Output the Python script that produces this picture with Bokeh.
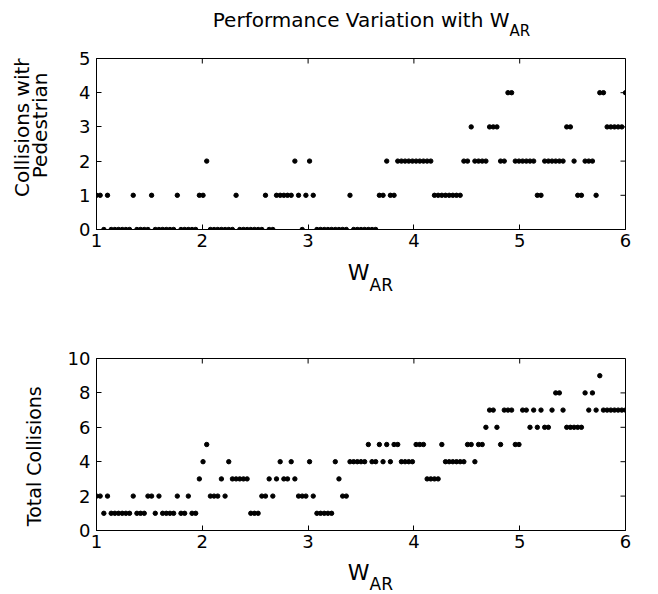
import numpy as np
from bokeh.plotting import figure
from bokeh.models import Range1d, FixedTicker
from bokeh.core.properties import value
from bokeh.layouts import column, row
from bokeh.embed import file_html
from bokeh.resources import INLINE

# ---------------- data ----------------
N_POINTS = 145
w_ar = np.linspace(1.0, 6.0, N_POINTS)

ped_collisions = [1, 1, 0, 1, 0, 0, 0, 0, 0, 0, 1, 0, 0, 0, 0, 1, 0, 0, 0, 0, 0, 0, 1,
                  0, 0, 0, 0, 0, 1, 1, 2, 0, 0, 0, 0, 0, 0, 0, 1, 0, 0, 0, 0, 0, 0, 0,
                  1, 0, 0, 1, 1, 1, 1, 1, 2, 1, 0, 1, 2, 1, 0, 0, 0, 0, 0, 0, 0, 0, 0,
                  1, 0, 0, 0, 0, 0, 0, 0, 1, 1, 2, 1, 1, 2, 2, 2, 2, 2, 2, 2, 2, 2, 2,
                  1, 1, 1, 1, 1, 1, 1, 1, 2, 2, 3, 2, 2, 2, 2, 3, 3, 3, 2, 2, 4, 4,
                  2, 2, 2, 2, 2, 2, 1, 1, 2, 2, 2, 2, 2, 2, 3, 3, 2, 1, 1, 2, 2, 2, 1,
                  4, 4, 3, 3, 3, 3, 3, 4]

total_collisions = [2, 2, 1, 2, 1, 1, 1, 1, 1, 1, 2, 1, 1, 1, 2, 2, 1, 2, 1, 1, 1, 1, 2,
                    1, 1, 2, 1, 1, 3, 4, 5, 2, 2, 2, 3, 2, 4, 3, 3, 3, 3, 3, 1, 1, 1,
                    2, 2, 3, 2, 3, 4, 3, 3, 4, 3, 2, 2, 2, 4, 2, 1, 1, 1, 1, 1, 4, 3,
                    2, 2, 4, 4, 4, 4, 4, 5, 4, 4, 5, 4, 5, 4, 5, 5, 4, 4, 4, 4, 5, 5, 5,
                    3, 3, 3, 3, 5, 4, 4, 4, 4, 4, 4, 5, 5, 4, 5, 5, 6, 7, 7, 6, 5, 7, 7,
                    7, 5, 5, 7, 7, 6, 7, 6, 7, 6, 6, 7, 8, 8, 7, 6, 6, 6, 6, 6, 8, 7, 8,
                    7, 9, 7, 7, 7, 7, 7, 7, 7]

x_ticks = [1, 2, 3, 4, 5, 6]
ped_ticks = [0, 1, 2, 3, 4, 5]
total_ticks = [0, 2, 4, 6, 8, 10]

assert len(ped_collisions) == N_POINTS and len(total_collisions) == N_POINTS

FONT = "DejaVu Sans"
TICK_FS = "18px"
TOTAL_W = 658
YLAB_W = 60
PLOT_W = TOTAL_W - YLAB_W          # 598
FRAME_LEFT = 96                    # page x of the plot box's left edge
FRAME_W = 529
ANCHOR_SHIFT = 0.37                # measured offset of Bokeh's text anchor (in em)


def make_plot(height, b_top, b_bottom, ymax, yticks, yvals):
    p = figure(width=PLOT_W, height=height,
               x_range=Range1d(1, 6), y_range=Range1d(0, ymax),
               output_backend="svg", toolbar_location=None,
               min_border_left=FRAME_LEFT - YLAB_W,
               min_border_right=PLOT_W - (FRAME_LEFT - YLAB_W) - FRAME_W,
               min_border_top=b_top, min_border_bottom=b_bottom)
    p.xgrid.visible = False
    p.ygrid.visible = False
    p.outline_line_color = "black"
    p.outline_line_width = 1
    p.background_fill_color = "white"
    p.border_fill_color = "white"
    for ax, ticks, standoff in ((p.xaxis[0], x_ticks, 4), (p.yaxis[0], yticks, 6)):
        ax.ticker = FixedTicker(ticks=ticks)
        ax.axis_line_color = "black"
        ax.axis_line_width = 1
        ax.major_tick_in = 5
        ax.major_tick_out = 0
        ax.major_tick_line_color = "black"
        ax.minor_tick_line_color = None
        ax.major_label_text_font = FONT
        ax.major_label_text_font_size = TICK_FS
        ax.major_label_text_color = "black"
        ax.major_label_standoff = standoff
    # mirrored inward ticks on the top and right edges of the box
    p.ray(x=x_ticks, y=[ymax] * len(x_ticks), length=5, length_units="screen",
          angle=-np.pi / 2, line_color="black", line_width=1)
    p.ray(x=[6] * len(yticks), y=yticks, length=5, length_units="screen",
          angle=np.pi, line_color="black", line_width=1)
    p.scatter(x=w_ar, y=yvals, size=4.4, color="black", line_color="black")
    return p


def text_fig(w, h):
    f = figure(width=w, height=h, x_range=Range1d(0, w), y_range=Range1d(0, h),
               output_backend="svg", toolbar_location=None, min_border=0,
               x_axis_type=None, y_axis_type=None)
    f.outline_line_color = None
    f.background_fill_color = "white"
    f.border_fill_color = "white"
    return f


def put(f, origin, px, py, txt, size_px, align="left", vertical=False):
    """Place text so that its baseline passes through page pixel (px, py)."""
    ox, oy = origin
    shift = ANCHOR_SHIFT * size_px
    if vertical:
        ax, ay, angle = px - shift, py, np.pi / 2
    else:
        ax, ay, angle = px, py - shift, 0.0
    f.text(x=[ax - ox], y=[f.height - (ay - oy)], text=[txt],
           text_font=value(FONT), text_font_size=value(f"{size_px}px"),
           text_align=align, text_baseline="alphabetic", angle=angle,
           text_color="black")


# page origins of each block (Bokeh's page has no body margin)
O_TITLE = (0, 0)
O_ROW1 = (0, 44)
O_XL1 = (0, 256)
O_ROW2 = (0, 300)
O_XL2 = (0, 557)

# ---- title ----
t_fig = text_fig(TOTAL_W, 44)
put(t_fig, O_TITLE, 509, 27, "Performance Variation with W", 20, "right")
put(t_fig, O_TITLE, 509, 36, "AR", 15, "left")

# ---- top plot row: frame y 58..229 ----
p1 = make_plot(212, 14, 27, 5, ped_ticks, ped_collisions)
yl1 = text_fig(YLAB_W, 212)
put(yl1, O_ROW1, 29, 127, "Collisions with", 20, "center", vertical=True)
put(yl1, O_ROW1, 47, 127, "Pedestrian", 20, "center", vertical=True)

xl1 = text_fig(TOTAL_W, 44)
put(xl1, O_XL1, 369, 280, "W", 22, "right")
put(xl1, O_XL1, 369, 291, "AR", 17, "left")

# ---- bottom plot row: frame y 358..530 ----
p2 = make_plot(257, 58, 27, 10, total_ticks, total_collisions)
yl2 = text_fig(YLAB_W, 257)
put(yl2, O_ROW2, 41, 446, "Total Collisions", 19, "center", vertical=True)

xl2 = text_fig(TOTAL_W, 37)
put(xl2, O_XL2, 369, 580, "W", 22, "right")
put(xl2, O_XL2, 369, 590, "AR", 17, "left")

layout = column(t_fig, row(yl1, p1, spacing=0), xl1, row(yl2, p2, spacing=0), xl2,
                spacing=0)
open("out.html", "w").write(file_html(layout, INLINE))
